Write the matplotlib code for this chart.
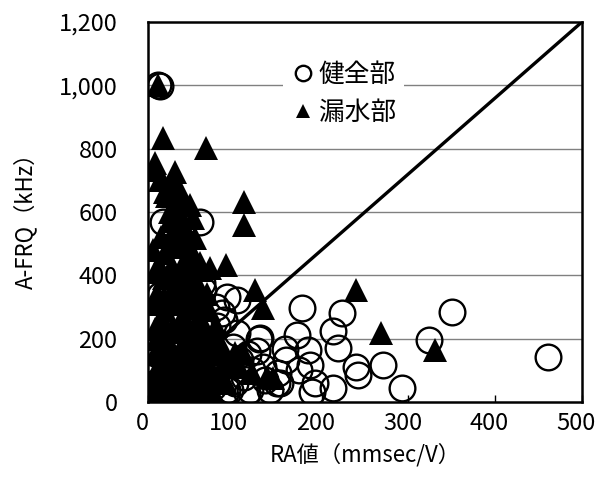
import matplotlib
matplotlib.use("Agg")
import matplotlib.pyplot as plt
import matplotlib.transforms as mtransforms

plt.rcParams['font.family'] = ['Noto Sans CJK JP', 'DejaVu Sans']

# 健全部 (circles)
sound_x = [461, 350, 324, 271, 293, 223, 213, 219, 239, 242, 177, 172, 128, 158,
           184, 187, 174, 159, 192, 213, 189, 152, 141, 102, 91, 62, 14, 60, 17,
           12, 63, 2, 3, 68, 91, 48, 114, 8, 102, 98, 106, 129, 132, 120, 110,
           135, 45, 75, 94, 117, 149, 5, 10, 30, 40, 55, 85, 20, 70, 125, 80,
           50, 35, 25, 100, 115, 150, 4, 6, 88, 78, 14]
sound_y = [142, 284, 196, 116, 44, 281, 224, 171, 110, 85, 295, 211, 199, 167,
           164, 117, 101, 133, 60, 44, 32, 60, 38, 322, 332, 375, 338, 568, 568,
           1000, 354, 268, 133, 69, 38, 28, 28, 60, 218, 174, 133, 202, 111, 100, 80,
           70, 28, 47, 38, 38, 60, 90, 150, 200, 250, 300, 280, 60, 130, 160, 240,
           120, 90, 20, 60, 150, 90, 80, 40, 260, 300, 998]

# 漏水部 (triangles)
leak_x = [12, 17, 67, 8, 10, 31, 20, 37, 48, 111, 111, 52, 54, 6, 20, 90, 71,
          62, 123, 132, 240, 268, 331, 109, 100, 137, 144,
          15, 25, 35, 45, 10, 30, 50, 20, 40, 60, 15, 35, 55, 10, 25, 45, 65,
          80, 20, 40, 60, 30, 50, 70, 85, 10, 25, 45, 65, 15, 35, 55, 75, 90,
          5, 20, 40, 30, 25, 45, 60, 55, 70, 75, 65, 85, 120, 40, 28,
          8, 18, 28, 38, 48, 58, 8, 18, 28, 38, 48, 58, 68, 8, 18, 28, 38, 48,
          58, 68, 78, 8, 18, 28, 38, 48, 58, 68, 78, 8, 18, 28, 38, 48, 58, 68,
          78, 95, 105, 12, 22, 32, 42, 52, 62, 72, 12, 22, 32, 42, 15, 30, 45,
          25, 35, 42, 22, 33, 14, 26, 38, 50]
leak_y = [1000, 833, 802, 755, 733, 727, 663, 638, 622, 632, 559, 581, 518, 480,
          470, 432, 423, 417, 354, 296, 354, 218, 164, 155, 155, 79, 76,
          420, 400, 380, 360, 340, 320, 300, 290, 270, 250, 240, 220, 200, 200,
          180, 170, 160, 150, 140, 130, 120, 110, 100, 90, 110, 90, 70, 60, 50,
          40, 30, 20, 30, 60, 20, 10, 500, 540, 600, 460, 440, 330, 290, 210,
          180, 174, 90, 560, 700,
          410, 390, 430, 410, 390, 370, 310, 330, 350, 310, 330, 310, 340, 230,
          250, 230, 250, 230, 260, 220, 240, 150, 170, 150, 170, 130, 150, 130,
          170, 60, 80, 60, 80, 50, 70, 100, 80, 120, 110, 30, 40, 30, 20, 40, 20,
          40, 110, 100, 90, 110, 520, 490, 520, 570, 560, 440, 650, 610, 700, 680,
          660, 480]

line_x = [0, 500]
line_y = [0, 1200]

xticks = [0, 100, 200, 300, 400, 500]
yticks = [0, 200, 400, 600, 800, 1000, 1200]
ytick_labels = ['0', '200', '400', '600', '800', '1,000', '1,200']

fig = plt.figure(figsize=(5.97, 4.86), dpi=100)
ax = fig.add_axes([0.248, 0.173, 0.727, 0.782])

for yv in yticks[1:-1]:
    ax.axhline(yv, color='#808080', linewidth=1.0, zorder=1)

ax.plot(line_x, line_y, color='black', linewidth=2.4, zorder=2)

ax.plot(sound_x, sound_y, linestyle='none', marker='o', markersize=18.5,
        markerfacecolor='none', markeredgecolor='black', markeredgewidth=1.7,
        label='健全部', zorder=3)
ax.plot(leak_x, leak_y, linestyle='none', marker='^', markersize=17,
        markerfacecolor='black', markeredgecolor='black', markeredgewidth=0,
        label='漏水部', zorder=4)

ax.set_xlim(0, 500)
ax.set_ylim(0, 1200)
ax.set_xticks(xticks)
ax.set_yticks(yticks)
ax.set_yticklabels(ytick_labels)
ax.tick_params(axis='x', direction='in', length=5, width=1, pad=7, labelsize=17)
ax.tick_params(axis='y', length=0, pad=22, labelsize=17)

# labels sit a little left of their ticks, as in the source chart
shift = mtransforms.ScaledTranslation(-0.06, 0, fig.dpi_scale_trans)
for lab in ax.get_xticklabels():
    lab.set_transform(lab.get_transform() + shift)

for s in ax.spines.values():
    s.set_linewidth(1.8)

ax.set_xlabel('RA値（mmsec/V）', fontsize=16, labelpad=6)
ax.set_ylabel('A-FRQ（kHz）', fontsize=16)
ax.yaxis.set_label_coords(-0.255, 0.49)

leg = ax.legend(loc='upper center', bbox_to_anchor=(0.45, 0.948), fontsize=18.5,
                markerscale=0.6, handletextpad=0.1, handlelength=1.0,
                labelspacing=0.45, borderpad=0.3, frameon=True, fancybox=False)
leg.get_frame().set_facecolor('white')
leg.get_frame().set_edgecolor('none')
leg.get_frame().set_alpha(1)

fig.savefig('out.png', dpi=100)
